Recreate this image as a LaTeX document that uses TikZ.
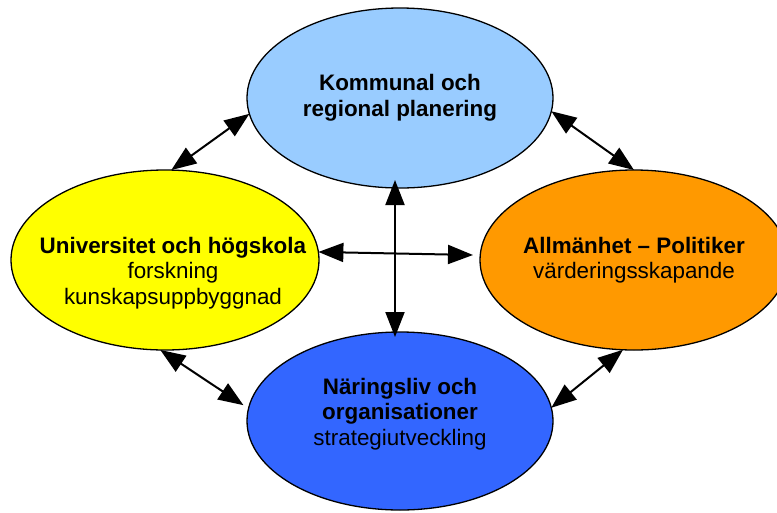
\documentclass[tikz,border=0pt]{standalone}
\usepackage{fontspec}
\setmainfont{Liberation Sans}
\usetikzlibrary{arrows.meta, % if the figure contains arrow-tips
                shapes,positioning}
\definecolor{planblue}{HTML}{99CCFF}
\definecolor{uniyellow}{HTML}{FFFF00}
\definecolor{polorange}{HTML}{FF9900}
\definecolor{orgblue}{HTML}{3366FF}

\begin{document}
\begin{tikzpicture}[x=1pt,y=-1pt,
		every node/.style={font=\fontsize{22.4}{25.5}\selectfont},
		blob/.style={draw, ellipse, line width=1.3pt, minimum width=306pt, minimum height=180pt, inner sep=0pt, outer sep=0pt},
		lbl/.style={align=center, inner sep=0pt},
		every edge/.style={draw, {Triangle[length=25pt,width=19pt]}-{Triangle[length=25pt,width=19pt]}, line width=2pt}]
		\clip (0,0) rectangle (777,512);
		% Nodes
		\node (tc) [blob, fill=planblue] at (400,98) {};
		\node (ml) [blob, fill=uniyellow, minimum width=308pt] at (165,260) {};
		\node (mr) [blob, fill=polorange, minimum width=308pt] at (634,260) {};
		\node (bc) [blob, fill=orgblue, minimum height=178pt] at (400,421) {};
		\node (tcl) [lbl] at (tc) {\textbf{Kommunal och}\\\textbf{regional planering}};
		\node (mll) [lbl, xshift=8pt, yshift=-13pt] at (ml) {\textbf{Universitet och högskola}\\forskning\\kunskapsuppbyggnad};
		\node (mrl) [lbl] at (mr) {\textbf{Allmänhet – Politiker}\\värderingsskapande};
		\node (bcl) [lbl, yshift=7pt] at (bc) {\textbf{Näringsliv och}\\\textbf{organisationer}\\strategiutveckling};

		% Edges
		\draw (tc.186) edge (ml.86);
		\draw (tc.355) edge (mr.north);
		\draw ([xshift=-5pt,yshift=8pt]tc.south) edge ([xshift=-5pt,yshift=-5pt]bc.north);
		\draw (ml.3) edge ([xshift=-7pt,yshift=5pt]mr.west);
		\draw (ml.267) edge ([xshift=-6pt]bc.174);
		\draw (mr.263) edge (bc.5);
	\end{tikzpicture}
\end{document}
